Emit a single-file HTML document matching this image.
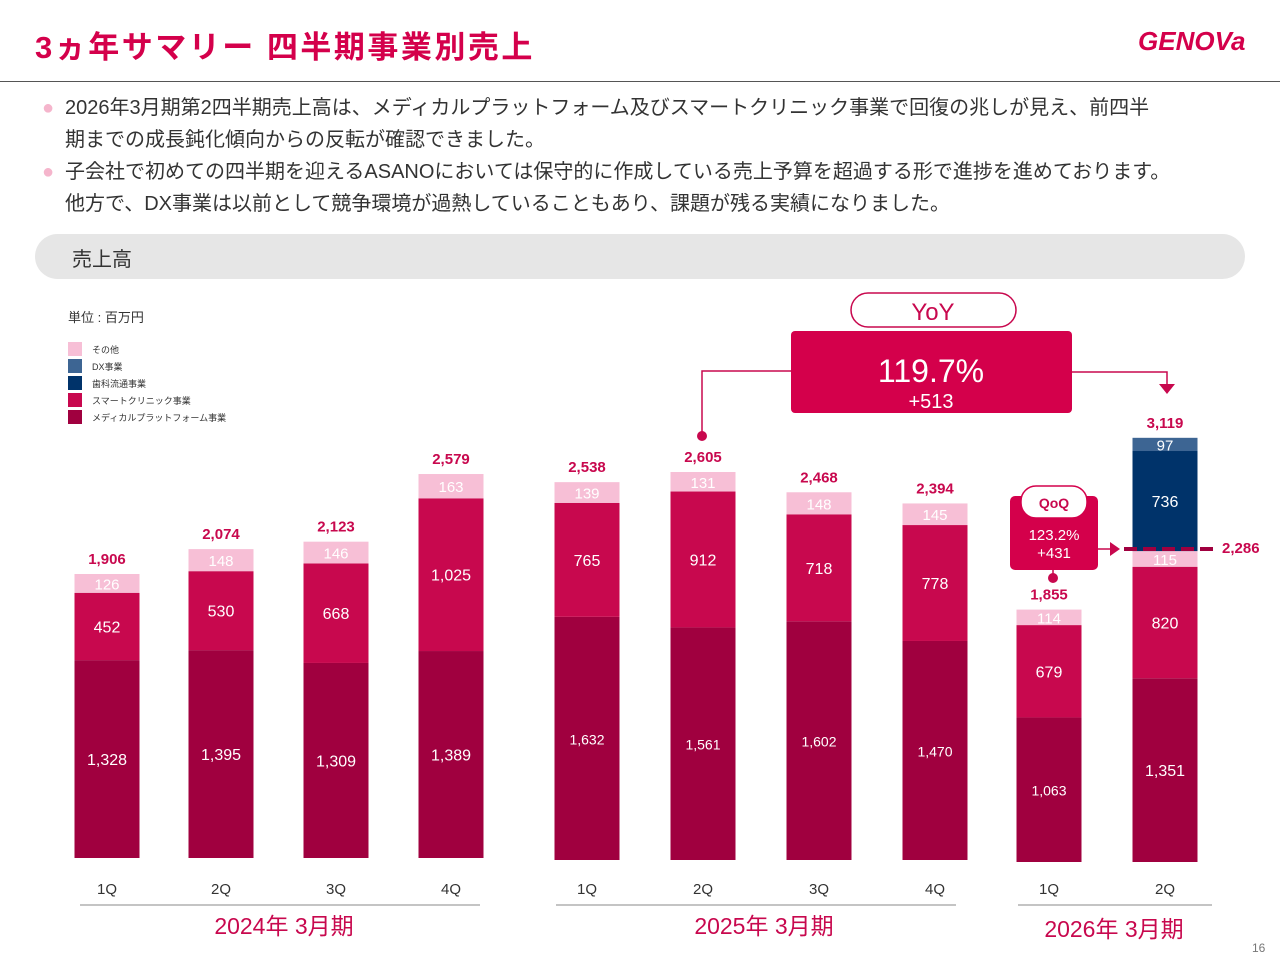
<!DOCTYPE html>
<html><head><meta charset="utf-8"><style>
body{margin:0;width:1280px;height:960px;background:#fff;font-family:"Liberation Sans","Noto Sans CJK JP",sans-serif;position:relative;overflow:hidden}
.a{position:absolute}
</style></head><body>
<div class="a" style="left:35px;top:22px;font-size:31px;font-weight:bold;color:#d4004b;letter-spacing:2.5px">3ヵ年サマリー 四半期事業別売上</div>
<div class="a" style="left:1138px;top:26px;font-size:26px;font-weight:bold;color:#d4004b;font-style:italic">GENOVa</div>
<div class="a" style="left:0;top:81px;width:1280px;height:1px;background:#555"></div>
<div class="a" style="left:40px;top:92px;width:1220px;font-size:20px;line-height:32px;color:#333">
<div style="position:relative;padding-left:25px"><span style="position:absolute;left:2px;top:0;color:#f5b5cc">●</span>2026年3月期第2四半期売上高は、メディカルプラットフォーム及びスマートクリニック事業で回復の兆しが見え、前四半<br>期までの成長鈍化傾向からの反転が確認できました。</div>
<div style="position:relative;padding-left:25px"><span style="position:absolute;left:2px;top:0;color:#f5b5cc">●</span>子会社で初めての四半期を迎えるASANOにおいては保守的に作成している売上予算を超過する形で進捗を進めております。<br>他方で、DX事業は以前として競争環境が過熱していることもあり、課題が残る実績になりました。</div>
</div>
<div class="a" style="left:35px;top:234px;width:1210px;height:45px;background:#e6e6e6;border-radius:23px"><span style="position:absolute;left:37px;top:9px;font-size:20px;color:#333">売上高</span></div>
<svg class="a" style="left:0;top:0" width="1280" height="960" id="chart"></svg>
<script>
const categories=["1Q","2Q","3Q","4Q","1Q","2Q","3Q","4Q","1Q","2Q"];
const medical=[1328,1395,1309,1389,1632,1561,1602,1470,1063,1351];
const smart=[452,530,668,1025,765,912,718,778,679,820];
const other=[126,148,146,163,139,131,148,145,114,115];
const dental=[0,0,0,0,0,0,0,0,0,736];
const dx=[0,0,0,0,0,0,0,0,0,97];
const totals=["1,906","2,074","2,123","2,579","2,538","2,605","2,468","2,394","1,855","3,119"];
const groups=["2024年 3月期","2025年 3月期","2026年 3月期"];
const NS="http://www.w3.org/2000/svg";
const svg=document.getElementById('chart');
function mk(t,a,p){const e=document.createElementNS(NS,t);for(const k in a)e.setAttribute(k,a[k]);(p||svg).appendChild(e);return e;}
const xc=[107,221,336,451,587,703,819,935,1049,1165];
function gi(i){return i<4?0:i<8?1:2;}
const base=[858,860,862],scl=[0.149,0.149,0.136];
function y(i,v){return base[gi(i)]-v*scl[gi(i)];}
const fmt=v=>v.toLocaleString('en-US');
const series=[[medical,"#a0003f","medical"],[smart,"#c8084e","smart-clinic"],[other,"#f7bfd6","other"],[dental,"#00336a","dental"],[dx,"#3d6593","dx"]];
for(let i=0;i<categories.length;i++){
  let acc=0;
  series.forEach(([arr,col,nm],si)=>{
    const v=arr[i];if(!v)return;
    const y0=y(i,acc),y1=y(i,acc+v);
    const r=mk('rect',{x:xc[i]-32.5,y:y1,width:65,height:y0-y1,fill:col});
    
    
    const t=mk('text',{x:xc[i],y:(y0+y1)/2+6,'text-anchor':'middle','font-size':si==2||si==4?15:(si==0&&gi(i)==1||si==0&&i==8?14:16),fill:'#fff'});
    t.textContent=fmt(v);
    acc+=v;
  });
  const tt=mk('text',{x:xc[i],y:y(i,acc)-10,'text-anchor':'middle','font-size':15,'font-weight':'bold',fill:'#c8084e'});
  tt.textContent=totals[i];
  const c=mk('text',{x:xc[i],y:894,'text-anchor':'middle','font-size':15,fill:'#333'});c.textContent=categories[i];
}
const gx=[[80,480,284],[556,956,764],[1018,1212,1114]];
gx.forEach((g,k)=>{mk('line',{x1:g[0],x2:g[1],y1:905,y2:905,stroke:'#888'});const t=mk('text',{x:g[2],y:934+(k==2?3:0),'text-anchor':'middle','font-size':23,fill:'#c8084e'});t.textContent=groups[k];});
mk('text',{x:68,y:322,'font-size':13,fill:'#333'}).textContent="単位 : 百万円";
[["その他","#f7bfd6"],["DX事業","#3d6593"],["歯科流通事業","#00336a"],["スマートクリニック事業","#c8084e"],["メディカルプラットフォーム事業","#a0003f"]].forEach((l,k)=>{
 mk('rect',{x:68,y:342+k*17,width:14,height:14,fill:l[1]});
 mk('text',{x:92,y:353+k*17,'font-size':9,fill:'#333'}).textContent=l[0];
});
mk('rect',{x:851,y:293,width:165,height:34,rx:17,fill:'#fff',stroke:'#c8084e','stroke-width':1.5});
mk('text',{x:933,y:320,'text-anchor':'middle','font-size':24,fill:'#c8084e'}).textContent="YoY";
mk('rect',{x:791,y:331,width:281,height:82,rx:4,fill:'#d4004b'});
mk('text',{x:931,y:382,'text-anchor':'middle','font-size':32,fill:'#fff'}).textContent="119.7%";
mk('text',{x:931,y:408,'text-anchor':'middle','font-size':20,fill:'#fff'}).textContent="+513";
mk('polyline',{points:"791,371 702,371 702,436",fill:'none',stroke:'#c8084e','stroke-width':1.5});
mk('circle',{cx:702,cy:436,r:5,fill:'#c8084e'});
mk('polyline',{points:"1072,372 1167,372 1167,384",fill:'none',stroke:'#c8084e','stroke-width':1.5});
mk('polygon',{points:"1159,384 1175,384 1167,394",fill:'#c8084e'});
mk('rect',{x:1010,y:496,width:88,height:74,rx:5,fill:'#d4004b'});
mk('rect',{x:1021,y:486,width:66,height:32,rx:15,fill:'#fff',stroke:'#d4004b','stroke-width':1.5});
mk('text',{x:1054,y:508,'text-anchor':'middle','font-size':14,'font-weight':'bold',fill:'#c8084e'}).textContent="QoQ";
mk('text',{x:1054,y:540,'text-anchor':'middle','font-size':15,fill:'#fff'}).textContent="123.2%";
mk('text',{x:1054,y:558,'text-anchor':'middle','font-size':15,fill:'#fff'}).textContent="+431";
mk('line',{x1:1053,y1:570,x2:1053,y2:578,stroke:'#c8084e','stroke-width':1.5});
mk('circle',{cx:1053,cy:578,r:5,fill:'#c8084e'});
mk('line',{x1:1098,y1:549,x2:1110,y2:549,stroke:'#c8084e','stroke-width':1.5});
mk('polygon',{points:"1110,542 1120,549 1110,556",fill:'#c8084e'});
mk('line',{x1:1124,y1:549,x2:1214,y2:549,stroke:'#a0003f','stroke-width':4,'stroke-dasharray':'13,6'});
mk('text',{x:1222,y:553,'font-size':15,'font-weight':'bold',fill:'#c8084e'}).textContent="2,286";
mk('text',{x:1252,y:952,'font-size':12,fill:'#777'}).textContent="16";
</script>
</body></html>
